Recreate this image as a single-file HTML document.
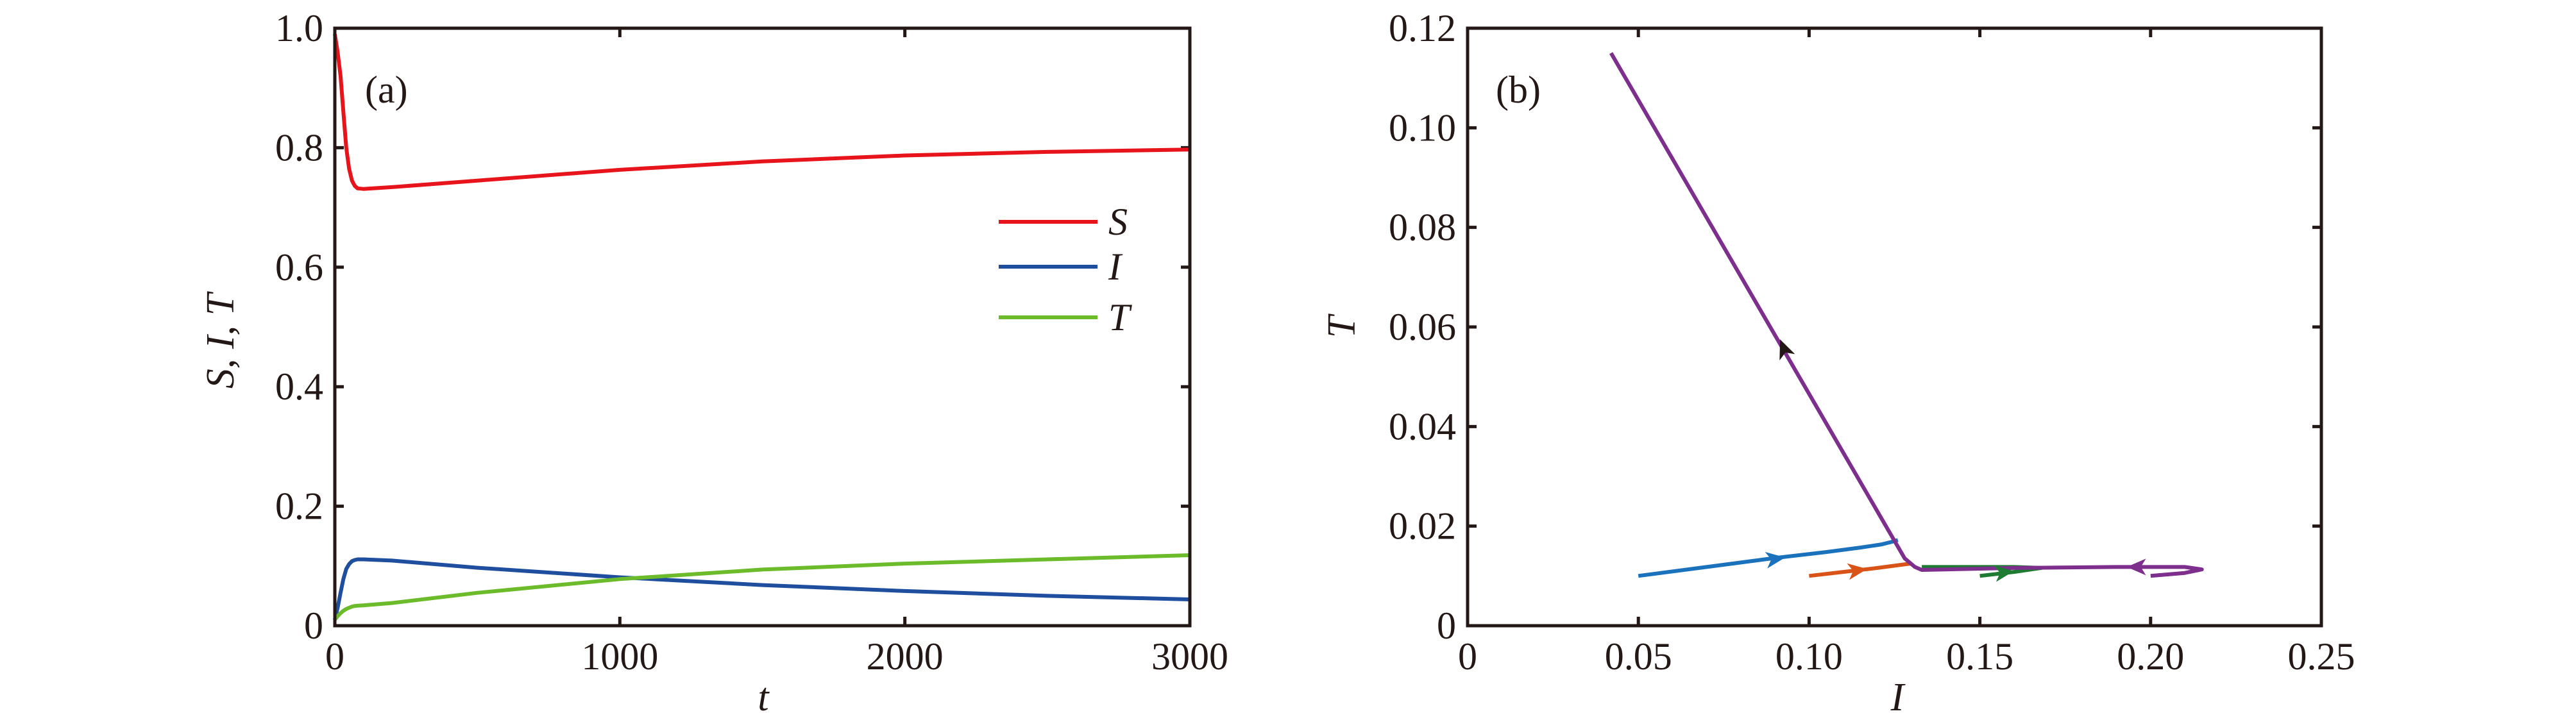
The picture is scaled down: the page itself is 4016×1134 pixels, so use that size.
<!DOCTYPE html>
<html><head><meta charset="utf-8"><style>
html,body{margin:0;padding:0;background:#fff;}
svg{display:block;font-family:"Liberation Serif",serif;}
</style></head><body>
<svg id="fig" width="4016" height="1134" viewBox="0 0 4016 1134" xmlns="http://www.w3.org/2000/svg">
<rect width="4016" height="1134" fill="#fff"/>
<g id="pa"></g>
<g id="pb"></g>
</svg>
<script>
// Panel (a) data
const tA = [0,10,20,30,40,50,60,70,80,100,200,500,1000,1500,2000,2500,3000];
const sA = [0.99,0.96,0.92,0.86,0.80,0.765,0.745,0.736,0.732,0.731,0.734,0.745,0.763,0.777,0.787,0.793,0.797];
const iA = [0.01,0.03,0.055,0.078,0.095,0.103,0.108,0.110,0.111,0.111,0.109,0.097,0.081,0.068,0.058,0.050,0.044];
const tvA = [0.01,0.016,0.021,0.025,0.028,0.030,0.032,0.033,0.0335,0.034,0.038,0.055,0.078,0.094,0.104,0.111,0.118];
const xTicksA = [0,1000,2000,3000];
const xTickLabelsA = ["0","1000","2000","3000"];
const yTicksA = [0,0.2,0.4,0.6,0.8,1.0];
const yTickLabelsA = ["0","0.2","0.4","0.6","0.8","1.0"];
// Panel (b) data
const blueI = [0.05,0.07,0.09,0.105,0.115,0.121,0.124,0.126];
const blueT = [0.010,0.0118,0.0136,0.0148,0.0157,0.0163,0.0168,0.0172];
const orangeI = [0.10,0.11,0.12,0.13];
const orangeT = [0.010,0.0108,0.0116,0.0125];
const greenI = [0.15,0.16,0.168,0.16,0.145,0.133];
const greenT = [0.0100,0.0108,0.0116,0.0118,0.0118,0.0118];
const purpleI = [0.20,0.21,0.215,0.21,0.19,0.16,0.14,0.133,0.131,0.128,0.042];
const purpleT = [0.0100,0.0106,0.0113,0.0118,0.0118,0.0116,0.0113,0.0112,0.0118,0.0135,0.115];
const xTicksB = [0,0.05,0.10,0.15,0.20,0.25];
const xTickLabelsB = ["0","0.05","0.10","0.15","0.20","0.25"];
const yTicksB = [0,0.02,0.04,0.06,0.08,0.10,0.12];
const yTickLabelsB = ["0","0.02","0.04","0.06","0.08","0.10","0.12"];

const NS="http://www.w3.org/2000/svg";
function mk(parent,tag,attrs){const e=document.createElementNS(NS,tag);for(const k in attrs)e.setAttribute(k,attrs[k]);parent.appendChild(e);return e;}

function axes(g,L,R,T,B,xmin,xmax,ymin,ymax,xt,xl,yt,yl){
  const sx=v=>L+(v-xmin)/(xmax-xmin)*(R-L);
  const sy=v=>B-(v-ymin)/(ymax-ymin)*(B-T);
  xt.forEach((v,i)=>{
    const x=sx(v);
    const tk=mk(g,'path',{d:`M${x},${B}v-14M${x},${T}v14`,stroke:'#231815','stroke-width':5});
    
    
    const t=mk(g,'text',{x:x,y:B+68,'text-anchor':'middle','font-size':60,fill:'#231815'});
    t.textContent=xl[i];
    
    
  });
  yt.forEach((v,i)=>{
    const y=sy(v);
    const tk=mk(g,'path',{d:`M${L},${y}h14M${R},${y}h-14`,stroke:'#231815','stroke-width':5});
    
    
    const t=mk(g,'text',{x:L-18,y:y+20,'text-anchor':'end','font-size':60,fill:'#231815'});
    t.textContent=yl[i];
    
    
  });
  return {sx,sy};
}
function line(g,xs,ys,sc,color,name,w){
  const pts=xs.map((v,i)=>sc.sx(v).toFixed(1)+','+sc.sy(ys[i]).toFixed(1)).join(' ');
  const p=mk(g,'polyline',{points:pts,fill:'none',stroke:color,'stroke-width':w||6,'stroke-linejoin':'round'});
  
  
}
function arrow(g,x,y,ang,color,name){
  const a=mk(g,'path',{d:'M0,0 L-30,-13 L-22,0 L-30,13 Z',fill:color,transform:`translate(${x},${y}) rotate(${ang})`});
  
  
}

// Panel a
const ga=document.getElementById('pa');
const LA=522,RA=1855,TA=44,BA=976;
const sa=axes(ga,LA,RA,TA,BA,0,3000,0,1,xTicksA,xTickLabelsA,yTicksA,yTickLabelsA);
line(ga,tA,sA,sa,'#e8141c','series-s');
line(ga,tA,iA,sa,'#1f4e9e','series-i');
line(ga,tA,tvA,sa,'#6cbb2b','series-t');
let fr=mk(ga,'rect',{x:LA,y:TA,width:RA-LA,height:BA-TA,fill:'none',stroke:'#231815','stroke-width':5});

[['#e8141c','S',346],['#1f4e9e','I',416],['#6cbb2b','T',495]].forEach(([c,l,y])=>{
  const ln=mk(ga,'line',{x1:1557,x2:1711,y1:y,y2:y,stroke:c,'stroke-width':6});
  
  
  const t=mk(ga,'text',{x:1728,y:y+20,'font-size':60,'font-style':'italic',fill:'#231815'});
  t.textContent=l;
  
  
});
let ta=mk(ga,'text',{x:569,y:160,'font-size':60,fill:'#231815'});ta.textContent='(a)';

let yla=mk(ga,'text',{x:0,y:0,'font-size':62,'font-style':'italic','text-anchor':'middle',fill:'#231815',transform:'translate(364,532) rotate(-90)'});yla.textContent='S, I, T';

let xla=mk(ga,'text',{x:1190,y:1108,'font-size':62,'font-style':'italic','text-anchor':'middle',fill:'#231815'});xla.textContent='t';


// Panel b
const gb=document.getElementById('pb');
const LB=2288,RB=3619,TB=44,BB=976;
const sb=axes(gb,LB,RB,TB,BB,0,0.25,0,0.12,xTicksB,xTickLabelsB,yTicksB,yTickLabelsB);
line(gb,blueI,blueT,sb,'#1a72bd','trajectory-blue');
line(gb,orangeI,orangeT,sb,'#d95319','trajectory-orange');
line(gb,greenI,greenT,sb,'#1e7b32','trajectory-green');
line(gb,purpleI,purpleT,sb,'#7e2f8e','trajectory-purple');
arrow(gb,sb.sx(0.093),sb.sy(0.0137),-8,'#1a72bd','arrow-blue');
arrow(gb,sb.sx(0.117),sb.sy(0.0114),-8,'#d95319','arrow-orange');
arrow(gb,sb.sx(0.160),sb.sy(0.0110),-8,'#1e7b32','arrow-green');
arrow(gb,sb.sx(0.193),sb.sy(0.0118),180,'#7e2f8e','arrow-purple');
arrow(gb,sb.sx(0.0915),sb.sy(0.0575),-112,'#231815','arrow-black');
let fb=mk(gb,'rect',{x:LB,y:TB,width:RB-LB,height:BB-TB,fill:'none',stroke:'#231815','stroke-width':5});

let tb=mk(gb,'text',{x:2332,y:160,'font-size':60,fill:'#231815'});tb.textContent='(b)';

let ylb=mk(gb,'text',{x:0,y:0,'font-size':62,'font-style':'italic','text-anchor':'middle',fill:'#231815',transform:'translate(2112,510) rotate(-90)'});ylb.textContent='T';

let xlb=mk(gb,'text',{x:2958,y:1108,'font-size':62,'font-style':'italic','text-anchor':'middle',fill:'#231815'});xlb.textContent='I';

</script>
</body></html>
